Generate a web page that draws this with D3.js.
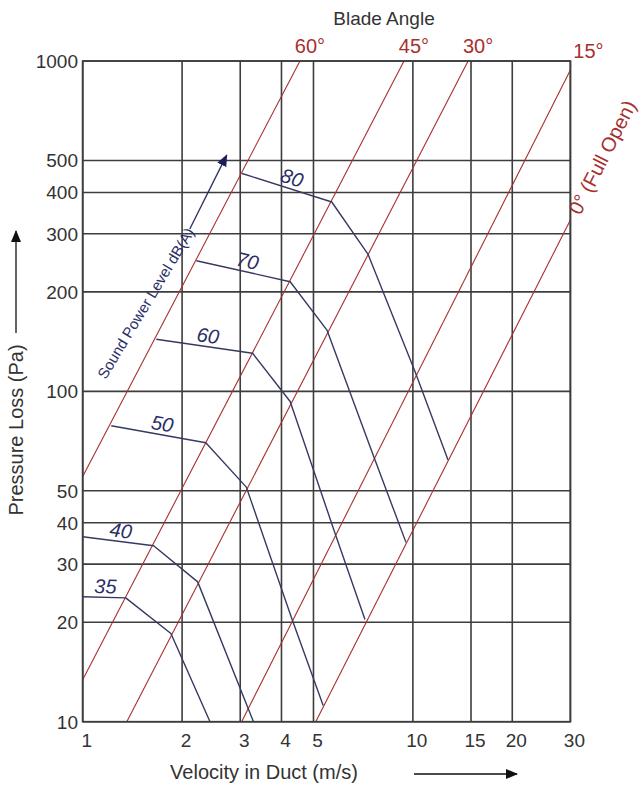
<!DOCTYPE html>
<html lang="en">

<head>
	<meta charset="utf-8">
	<title>Damper: pressure loss and sound power</title>
	<script type="text/javascript" src="https://cdn.jsdelivr.net/npm/d3@7/dist/d3.min.js"></script>
	<style type="text/css">
		body { margin: 0; background: #fff; }
		text { font-family: "Liberation Sans", Arial, sans-serif; }
	</style>
</head>

<body>
	<script type="text/javascript">
		//Width and height
		var w = 642;
		var h = 788;

		// tick values
		var xTicks = [1, 2, 3, 4, 5, 10, 15, 20, 30];
		var yTicks = [10, 20, 30, 40, 50, 100, 200, 300, 400, 500, 1000];

		// blade angle lines, [velocity m/s, pressure Pa] at each end
		var bladeAngles = ["60°", "45°", "30°", "15°", "0° (Full Open)"];
		var bladeLines = [
			[[1, 55.2], [4.55, 1000]],
			[[1, 13.4], [9.40, 1000]],
			[[1.36, 10], [14.7, 1000]],
			[[3.03, 10], [30, 939]],
			[[5.08, 10], [30, 330]]
		];

		// sound power level curves, dB(A)
		var soundLevels = [35, 40, 50, 60, 70, 80];
		var soundCurves = [
			[[1, 23.9], [1.35, 23.7], [1.85, 18.5], [2.43, 10]],
			[[1, 36.3], [1.64, 34.1], [2.23, 26.5], [3.29, 10]],
			[[1.22, 78.7], [2.36, 69.9], [3.13, 51.3], [4.30, 20.5], [5.35, 11.2]],
			[[1.67, 143.8], [3.27, 130.4], [4.25, 93.2], [5.81, 37.2], [7.16, 20.4]],
			[[2.21, 248.6], [4.25, 214.7], [5.50, 152.9], [7.62, 63.3], [9.53, 34.9]],
			[[3.04, 456.6], [5.68, 374.3], [7.31, 260.4], [10.15, 114.8], [12.78, 62]]
		];

		// "Sound Power Level" arrow, tail and tip
		var soundArrow = [[2.11, 310], [2.73, 519]];

		// plot box (note: "top" is taken by window.top)
		var plotLeft = 82.7, plotRight = 570.4, plotTop = 61, plotBottom = 721.7;

		var gridColor = "#3d3d3d";
		var redColor = "#a8302f";
		var blueColor = "#363a62";
		var textColor = "#333";

		// create scales
		var xScale = d3.scaleLog()
			.domain([1, 30])
			.range([plotLeft, plotRight]);

		var yScale = d3.scaleLog()
			.domain([10, 1000])
			.range([plotBottom, plotTop]);

		//Create SVG element
		var svg = d3.select("body")
			.append("svg")
			.attr("width", w)
			.attr("height", h);

		var defs = svg.append("defs");

		defs.append("clipPath")
			.attr("id", "plotClip")
			.append("rect")
			.attr("x", plotLeft)
			.attr("y", plotTop)
			.attr("width", plotRight - plotLeft)
			.attr("height", plotBottom - plotTop);

		function addArrowMarker(id, color) {
			defs.append("marker")
				.attr("id", id)
				.attr("viewBox", "0 0 12 10")
				.attr("refX", 11)
				.attr("refY", 5)
				.attr("markerWidth", 12)
				.attr("markerHeight", 10)
				.attr("markerUnits", "userSpaceOnUse")
				.attr("orient", "auto")
				.append("path")
				.attr("d", "M0,0 L12,5 L0,10 Z")
				.attr("fill", color);
		}
		addArrowMarker("arrowBlack", "#111");
		addArrowMarker("arrowBlue", "#1c1f55");

		// grid
		svg.selectAll("line.vgrid")
			.data(xTicks)
			.enter()
			.append("line")
			.attr("class", "vgrid")
			.attr("x1", function (d) { return xScale(d); })
			.attr("x2", function (d) { return xScale(d); })
			.attr("y1", plotTop)
			.attr("y2", plotBottom)
			.attr("stroke", gridColor)
			.attr("stroke-width", 1.6);

		svg.selectAll("line.hgrid")
			.data(yTicks)
			.enter()
			.append("line")
			.attr("class", "hgrid")
			.attr("x1", plotLeft)
			.attr("x2", plotRight)
			.attr("y1", function (d) { return yScale(d); })
			.attr("y2", function (d) { return yScale(d); })
			.attr("stroke", gridColor)
			.attr("stroke-width", 1.6);

		// tick labels
		svg.selectAll("text.xtick")
			.data(xTicks)
			.enter()
			.append("text")
			.attr("class", "xtick")
			.text(function (d) { return d; })
			.attr("x", function (d) { return xScale(d) + 4; })
			.attr("y", 747)
			.attr("text-anchor", "middle")
			.attr("font-size", "19px")
			.attr("fill", textColor);

		svg.selectAll("text.ytick")
			.data(yTicks)
			.enter()
			.append("text")
			.attr("class", "ytick")
			.text(function (d) { return d; })
			.attr("x", 78)
			.attr("y", function (d) { return yScale(d); })
			.attr("dy", "0.36em")
			.attr("text-anchor", "end")
			.attr("font-size", "19px")
			.attr("fill", textColor);

		var plot = svg.append("g").attr("clip-path", "url(#plotClip)");

		var line = d3.line()
			.x(function (d) { return xScale(d[0]); })
			.y(function (d) { return yScale(d[1]); });

		// blade angle lines
		plot.selectAll("path.blade")
			.data(bladeLines)
			.enter()
			.append("path")
			.attr("class", "blade")
			.attr("d", line)
			.attr("fill", "none")
			.attr("stroke", redColor)
			.attr("stroke-width", 1.1);

		// sound power curves
		plot.selectAll("path.sound")
			.data(soundCurves)
			.enter()
			.append("path")
			.attr("class", "sound")
			.attr("d", line)
			.attr("fill", "none")
			.attr("stroke", blueColor)
			.attr("stroke-width", 1.4)
			.attr("stroke-linejoin", "round");

		// frame
		svg.append("rect")
			.attr("x", plotLeft)
			.attr("y", plotTop)
			.attr("width", plotRight - plotLeft)
			.attr("height", plotBottom - plotTop)
			.attr("fill", "none")
			.attr("stroke", gridColor)
			.attr("stroke-width", 1.7);

		// curve labels sit over the first segment
		svg.selectAll("text.level")
			.data(soundCurves)
			.enter()
			.append("text")
			.attr("class", "level")
			.text(function (d, i) { return soundLevels[i]; })
			.attr("transform", function (d) {
				var x0 = xScale(d[0][0]), y0 = yScale(d[0][1]);
				var x1 = xScale(d[1][0]), y1 = yScale(d[1][1]);
				var a = Math.atan2(y1 - y0, x1 - x0) * 180 / Math.PI;
				var px = x0 + 0.52 * (x1 - x0), py = y0 + 0.52 * (y1 - y0);
				return "translate(" + px + "," + py + ") rotate(" + a + ")";
			})
			.attr("y", -4)
			.attr("text-anchor", "middle")
			.attr("font-size", "20px")
			.attr("font-style", "italic")
			.attr("fill", "#2a2d66");

		// blade angle labels
		var last = bladeLines.length - 1;
		svg.selectAll("text.angle")
			.data(bladeLines)
			.enter()
			.append("text")
			.attr("class", "angle")
			.text(function (d, i) { return bladeAngles[i]; })
			.attr("transform", function (d, i) {
				var x1 = xScale(d[1][0]), y1 = yScale(d[1][1]);
				if (i == last) {
					// runs on along the extension of the line
					var x0 = xScale(d[0][0]), y0 = yScale(d[0][1]);
					var a = Math.atan2(y1 - y0, x1 - x0) * 180 / Math.PI;
					return "translate(" + x1 + "," + y1 + ") rotate(" + a + ")";
				}
				if (d[1][1] >= 1000) {
					return "translate(" + (x1 + 10) + "," + (plotTop - 8) + ")";
				}
				return "translate(" + (plotRight + 18) + "," + (y1 - 12) + ")";
			})
			.attr("x", function (d, i) { return i == last ? 8 : 0; })
			.attr("y", function (d, i) { return i == last ? 7 : 0; })
			.attr("text-anchor", function (d, i) { return i == last ? "start" : "middle"; })
			.attr("font-size", "20px")
			.attr("fill", redColor);

		svg.append("text")
			.text("Blade Angle")
			.attr("x", 384)
			.attr("y", 25)
			.attr("text-anchor", "middle")
			.attr("font-size", "19px")
			.attr("fill", textColor);

		// sound power level arrow
		var ax0 = xScale(soundArrow[0][0]), ay0 = yScale(soundArrow[0][1]);
		var ax1 = xScale(soundArrow[1][0]), ay1 = yScale(soundArrow[1][1]);

		svg.append("line")
			.attr("x1", ax0)
			.attr("y1", ay0)
			.attr("x2", ax1)
			.attr("y2", ay1)
			.attr("stroke", "#2a2d66")
			.attr("stroke-width", 1.3)
			.attr("marker-end", "url(#arrowBlue)");

		svg.append("text")
			.text("Sound Power Level dB(A)")
			.attr("transform", "translate(" + (ax0 + 5) + "," + (ay0 + 3) + ") rotate(-59)")
			.attr("text-anchor", "end")
			.attr("font-size", "15px")
			.attr("fill", "#2a2d66");

		// axis titles
		svg.append("text")
			.text("Velocity in Duct (m/s)")
			.attr("x", 264)
			.attr("y", 779)
			.attr("text-anchor", "middle")
			.attr("font-size", "20px")
			.attr("fill", textColor);

		svg.append("line")
			.attr("x1", 414)
			.attr("y1", 774)
			.attr("x2", 517)
			.attr("y2", 774)
			.attr("stroke", "#111")
			.attr("stroke-width", 1.3)
			.attr("marker-end", "url(#arrowBlack)");

		svg.append("text")
			.text("Pressure Loss (Pa)")
			.attr("transform", "translate(23,430) rotate(-90)")
			.attr("text-anchor", "middle")
			.attr("font-size", "20px")
			.attr("fill", textColor);

		svg.append("line")
			.attr("x1", 16)
			.attr("y1", 333)
			.attr("x2", 16)
			.attr("y2", 231)
			.attr("stroke", "#111")
			.attr("stroke-width", 1.3)
			.attr("marker-end", "url(#arrowBlack)");
	</script>
</body>

</html>
